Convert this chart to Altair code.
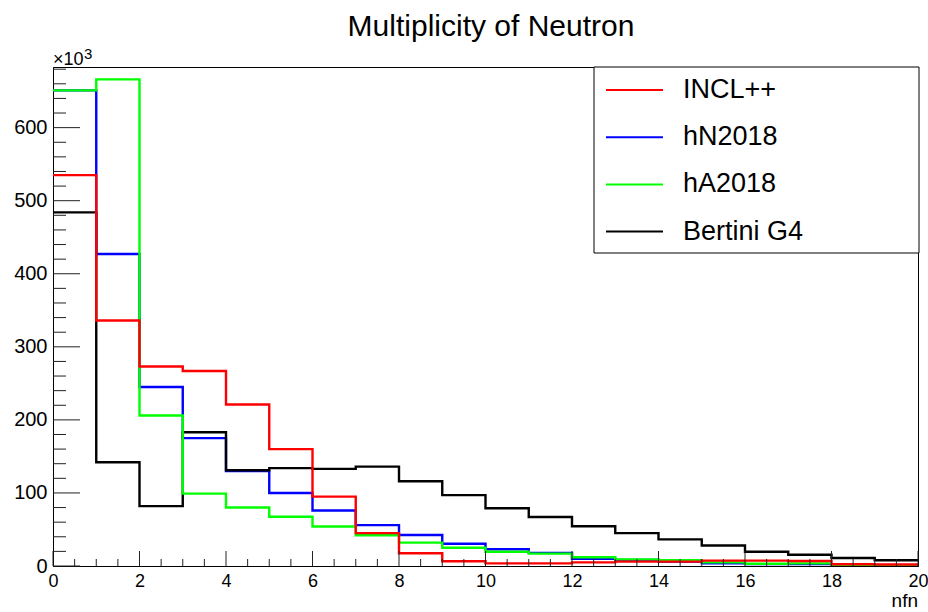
import altair as alt
import pandas as pd

# Neutron multiplicity per event (counts in units of 10^3), one value per unit bin 0..19
bin_edges = list(range(21))
incl = [535, 336, 273, 267, 221, 160, 95, 45, 17.4, 6.5, 3.6, 3.6, 5.0, 6.0, 6.0, 7.3, 7.3, 6.8, 2.3, 2.0]
hn2018 = [651, 427, 245, 175, 130, 100, 76, 56, 42.5, 30.5, 23, 18, 10, 8.3, 6.0, 3.6, 2.5, 2.5, 1.3, 0.8]
ha2018 = [651, 666, 206, 99, 80, 67.5, 54, 42, 32, 25, 19.6, 17, 12, 9.1, 7.8, 5.0, 3.0, 3.6, 1.5, 1.0]
bertini = [484, 142, 82, 183, 131, 134, 133, 136, 116, 97, 79, 67, 54.5, 45, 36.5, 28, 19.5, 15.5, 11, 7.8]

series_names = ["INCL++", "hN2018", "hA2018", "Bertini G4"]
series_colors = ["#ff0000", "#0000ff", "#00ff00", "#000000"]
series_values = [incl, hn2018, ha2018, bertini]
draw_order = ["hN2018", "Bertini G4", "hA2018", "INCL++"]

x_major = [0, 2, 4, 6, 8, 10, 12, 14, 16, 18, 20]
x_minor = [v / 2 for v in range(41) if v % 4 != 0]
y_major = [0, 100, 200, 300, 400, 500, 600]
y_minor = [v for v in range(0, 681, 20) if v % 100 != 0]

W, H = 865, 499
FONT = "Liberation Sans"

xs = alt.Scale(domain=[0, 20], nice=False, zero=False)
ys = alt.Scale(domain=[0, 683], nice=False, zero=True)
x_axis = alt.Axis(values=x_major, tickSize=0, labelFontSize=18, labelFont=FONT,
                  labelColor="#000", labelPadding=6, domainColor="#000", domainWidth=1,
                  grid=False, title=None, format="d", labelFlush=False)
y_axis = alt.Axis(values=y_major, tickSize=0, labelFontSize=20, labelFont=FONT,
                  labelColor="#000", labelPadding=6, domainColor="#000", domainWidth=1,
                  grid=False, title=None, format="d")


def hist_layer(name):
    i = series_names.index(name)
    vals = series_values[i]
    df = pd.DataFrame({"nfn": bin_edges, "count": vals + [vals[-1]], "model": name})
    return alt.Chart(df).mark_line(
        interpolate="step-after", color=series_colors[i], strokeWidth=2.4, clip=True
    ).encode(
        x=alt.X("nfn:Q", scale=xs, axis=x_axis),
        y=alt.Y("count:Q", scale=ys, axis=y_axis),
    )


def y_ticks(values, length):
    return alt.Chart(pd.DataFrame({"count": values})).mark_rule(color="#222", strokeWidth=1).encode(
        y=alt.Y("count:Q", scale=ys, axis=y_axis),
        x=alt.value(0), x2=alt.value(length),
    )


def x_ticks(values, length):
    return alt.Chart(pd.DataFrame({"nfn": values})).mark_rule(color="#222", strokeWidth=1).encode(
        x=alt.X("nfn:Q", scale=xs, axis=x_axis),
        y=alt.value(H), y2=alt.value(H - length),
    )


one = pd.DataFrame({"k": [0]})


def label(text, x, y, size, align="left", baseline="alphabetic"):
    return alt.Chart(one).mark_text(
        text=text, font=FONT, fontSize=size, align=align, baseline=baseline, color="#000"
    ).encode(x=alt.value(x), y=alt.value(y))


layers = [hist_layer(n) for n in draw_order]
layers += [y_ticks(y_major, 27), y_ticks(y_minor, 13), x_ticks(x_major, 15), x_ticks(x_minor, 7)]

# legend box
legend_box = alt.Chart(one).mark_rect(fill="white", stroke="#000", strokeWidth=1).encode(
    x=alt.value(541), x2=alt.value(866), y=alt.value(0), y2=alt.value(186)
)
layers.append(legend_box)
for i, (name, color) in enumerate(zip(series_names, series_colors)):
    row_y = 23 + 47.2 * i
    layers.append(alt.Chart(one).mark_rule(color=color, strokeWidth=2).encode(
        x=alt.value(553), x2=alt.value(610), y=alt.value(row_y)))
    layers.append(label(name, 630, row_y, 27, baseline="middle"))

layers += [
    label("Multiplicity of Neutron", 438, -31, 30, align="center"),
    label("\u00d710", 0, -2, 18),
    label("3", 31, -8, 15),
    label("nfn", W, H + 41, 19, align="right"),
]

chart = alt.layer(*layers).properties(
    width=W, height=H,
    autosize=alt.AutoSizeParams(type="none"),
    padding={"left": 53, "top": 67, "right": 10, "bottom": 46},
    background="white",
).configure_view(stroke="#000", strokeWidth=1)

chart.save("out.html", embed_options={"renderer": "svg", "actions": False})
